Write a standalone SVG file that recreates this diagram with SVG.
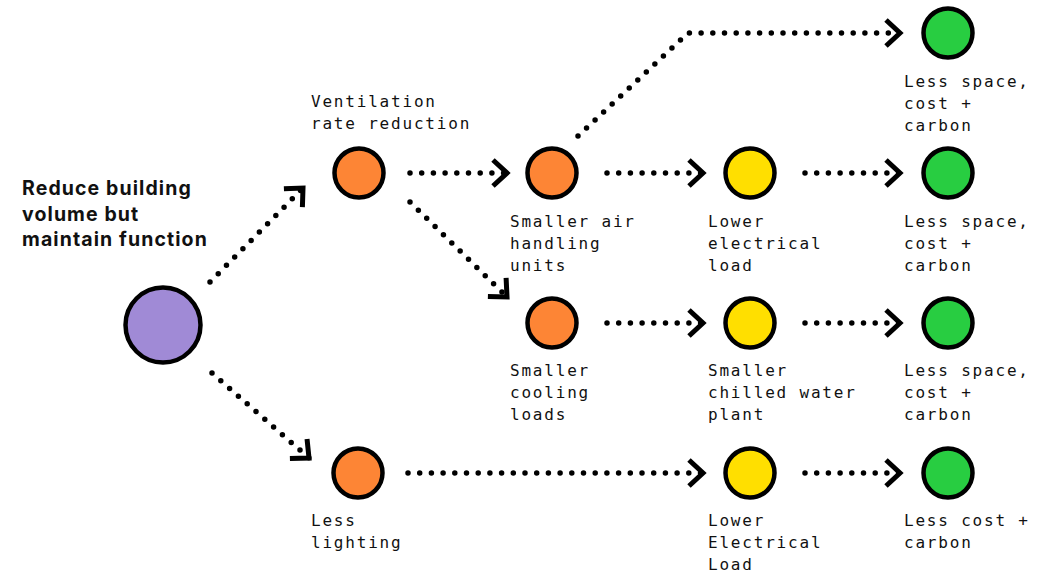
<svg xmlns="http://www.w3.org/2000/svg" width="1052" height="573" viewBox="0 0 1052 573">
<defs>
<style>
.bg{fill:#ffffff}
.n{stroke:#000;stroke-width:4.5}
.p{fill:#A08AD6}
.o{fill:#FD8535}
.y{fill:#FFDF00}
.g{fill:#28CD41}
.lbl{font-family:"DejaVu Sans Mono","Liberation Mono",monospace;font-size:16px;letter-spacing:1.8px;fill:#111}
.ttl{font-family:Inter,"Liberation Sans",sans-serif;font-weight:700;font-size:19.5px;letter-spacing:1.1px;fill:#111}
.c{fill:none;stroke:#000;stroke-width:5.5;stroke-linecap:round;stroke-dasharray:0 11.7;marker-end:url(#chev)}
</style>
<marker id="chev" markerUnits="userSpaceOnUse" orient="auto" markerWidth="40" markerHeight="40" refX="0" refY="0" viewBox="-20 -20 40 40" overflow="visible">
<path d="M-14,-13 L0,0 L-14,13" fill="none" stroke="#000" stroke-width="5" stroke-linejoin="miter" stroke-dasharray="none"/>
</marker>
</defs>
<rect class="bg" x="0" y="0" width="1052" height="573"/>
<g id="connectors">
<path class="c" d="M210,282 L303,188"/>
<path class="c" d="M212,373 L309,458"/>
<path class="c" d="M410,173 L507,173"/>
<path class="c" d="M410,202 L507,297"/>
<path class="c" d="M578,136 L688,33 L900,33"/>
<path class="c" d="M607,173 L703,173"/>
<path class="c" d="M805,173 L900,173"/>
<path class="c" d="M607,323 L703,323"/>
<path class="c" d="M805,323 L900,323"/>
<path class="c" d="M408,473 L703,473"/>
<path class="c" d="M805,473 L900,473"/>
</g>
<g id="root">
<circle class="n p" cx="163" cy="325" r="37.5"/>
<text class="ttl" x="22"><tspan x="22" y="195">Reduce building</tspan><tspan x="22" y="221">volume but</tspan><tspan x="22" y="246">maintain function</tspan></text>
</g>
<g id="ventilation">
<circle class="n o" cx="359" cy="173" r="24.5"/>
<text class="lbl"><tspan x="311" y="107">Ventilation</tspan><tspan x="311" y="129">rate reduction</tspan></text>
</g>
<g id="air-handling">
<circle class="n o" cx="552" cy="173" r="24.5"/>
<text class="lbl"><tspan x="510" y="227">Smaller air</tspan><tspan x="510" y="249">handling</tspan><tspan x="510" y="271">units</tspan></text>
</g>
<g id="lower-electrical">
<circle class="n y" cx="750" cy="173" r="24.5"/>
<text class="lbl"><tspan x="708" y="227">Lower</tspan><tspan x="708" y="249">electrical</tspan><tspan x="708" y="271">load</tspan></text>
</g>
<g id="green-1">
<circle class="n g" cx="948" cy="33" r="24.5"/>
<text class="lbl"><tspan x="904" y="87">Less space,</tspan><tspan x="904" y="109">cost +</tspan><tspan x="904" y="131">carbon</tspan></text>
</g>
<g id="green-2">
<circle class="n g" cx="948" cy="173" r="24.5"/>
<text class="lbl"><tspan x="904" y="227">Less space,</tspan><tspan x="904" y="249">cost +</tspan><tspan x="904" y="271">carbon</tspan></text>
</g>
<g id="cooling">
<circle class="n o" cx="552" cy="323" r="24.5"/>
<text class="lbl"><tspan x="510" y="376">Smaller</tspan><tspan x="510" y="398">cooling</tspan><tspan x="510" y="420">loads</tspan></text>
</g>
<g id="chilled-water">
<circle class="n y" cx="750" cy="323" r="24.5"/>
<text class="lbl"><tspan x="708" y="376">Smaller</tspan><tspan x="708" y="398">chilled water</tspan><tspan x="708" y="420">plant</tspan></text>
</g>
<g id="green-3">
<circle class="n g" cx="948" cy="323" r="24.5"/>
<text class="lbl"><tspan x="904" y="376">Less space,</tspan><tspan x="904" y="398">cost +</tspan><tspan x="904" y="420">carbon</tspan></text>
</g>
<g id="lighting">
<circle class="n o" cx="358" cy="473" r="24.5"/>
<text class="lbl"><tspan x="311" y="526">Less</tspan><tspan x="311" y="548">lighting</tspan></text>
</g>
<g id="lower-electrical-2">
<circle class="n y" cx="750" cy="473" r="24.5"/>
<text class="lbl"><tspan x="708" y="526">Lower</tspan><tspan x="708" y="548">Electrical</tspan><tspan x="708" y="570">Load</tspan></text>
</g>
<g id="green-4">
<circle class="n g" cx="948" cy="473" r="24.5"/>
<text class="lbl"><tspan x="904" y="526">Less cost +</tspan><tspan x="904" y="548">carbon</tspan></text>
</g>
</svg>
